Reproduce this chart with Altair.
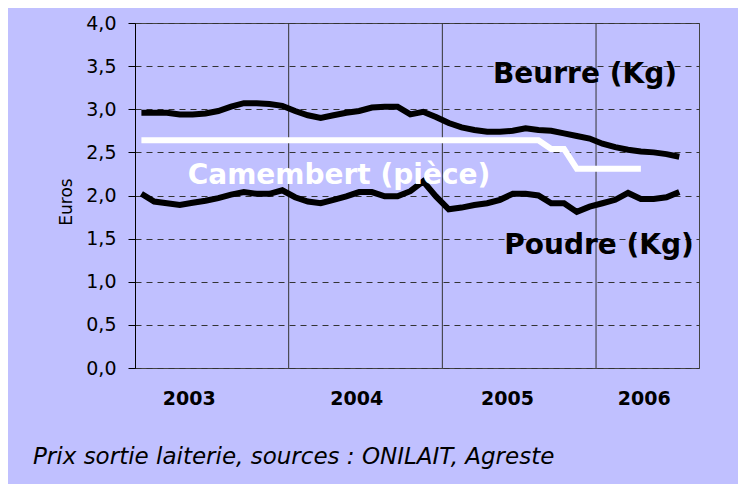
import altair as alt
import pandas as pd

# Monthly prices, Jan 2003 .. Jul 2006 (euros)
start_year = 2003
beurre = [2.96, 2.96, 2.96, 2.94, 2.94, 2.95, 2.98, 3.03, 3.07, 3.07, 3.06, 3.04,
          2.98, 2.93, 2.90, 2.93, 2.96, 2.98, 3.02, 3.03, 3.03, 2.94, 2.97, 2.91,
          2.84, 2.79, 2.76, 2.74, 2.74, 2.75, 2.78, 2.76, 2.75, 2.72, 2.69, 2.66,
          2.60, 2.56, 2.53, 2.51, 2.50, 2.48, 2.45]
poudre = [2.02, 1.93, 1.91, 1.89, 1.915, 1.94, 1.97, 2.01, 2.04, 2.02, 2.02, 2.06,
          1.98, 1.93, 1.91, 1.95, 1.99, 2.04, 2.04, 1.99, 1.99, 2.05, 2.165, 1.99,
          1.84, 1.86, 1.89, 1.91, 1.95, 2.02, 2.02, 2.00, 1.91, 1.91, 1.81, 1.87,
          1.91, 1.95, 2.03, 1.96, 1.96, 1.98, 2.04]
camembert = [2.64] * 32 + [2.54, 2.54] + [2.31] * 6

boundaries = [2004, 2005, 2006]
series_names = ["Beurre (Kg)", "Camembert (pièce)", "Poudre (Kg)"]
y_title = "Euros"
caption = "Prix sortie laiterie, sources : ONILAIT, Agreste"


def frame(values):
    return pd.DataFrame({
        "t": [start_year + (m + 0.5) / 12 for m in range(len(values))],
        "v": values,
    })


FONT = "DejaVu Sans"
xscale = alt.Scale(domain=[2003, 2006.67], nice=False, zero=False)
yscale = alt.Scale(domain=[0, 4], nice=False, zero=True)
xaxis = alt.Axis(values=[2003.35, 2004.44, 2005.42, 2006.31],
                 labelExpr="format(floor(datum.value), 'd')",
                 ticks=False, domain=False, grid=False, title=None,
                 labelFont=FONT, labelFontWeight="bold", labelFontSize=19,
                 labelColor="black", labelPadding=21)
yaxis = alt.Axis(values=[0, 0.5, 1, 1.5, 2, 2.5, 3, 3.5, 4],
                 labelExpr="replace(format(datum.value, '.1f'), '.', ',')",
                 grid=True, gridDash=[6, 5], gridColor="#333333", gridWidth=1,
                 domainColor="black", tickColor="black", tickSize=7,
                 labelFont=FONT, labelFontSize=19, labelColor="black", labelPadding=12,
                 title=None)

X = alt.X("t:Q", scale=xscale, axis=xaxis)
Y = alt.Y("v:Q", scale=yscale, axis=yaxis)

rules = alt.Chart(pd.DataFrame({"t": boundaries})).mark_rule(
    color="#333333", strokeWidth=1).encode(x=X)

line_b = alt.Chart(frame(beurre)).mark_line(color="black", strokeWidth=6).encode(x=X, y=Y)
line_p = alt.Chart(frame(poudre)).mark_line(color="black", strokeWidth=6).encode(x=X, y=Y)
line_c = alt.Chart(frame(camembert)).mark_line(color="white", strokeWidth=6).encode(x=X, y=Y)


def label(text, px, py, color, size=28, bold=True, italic=False, align="center",
          baseline="alphabetic", angle=0):
    kw = dict(font=FONT, fontSize=size, color=color, align=align, baseline=baseline)
    if bold:
        kw["fontWeight"] = "bold"
    if italic:
        kw["fontStyle"] = "italic"
    if angle:
        kw["angle"] = angle
    return alt.Chart(pd.DataFrame({"s": [text]})).mark_text(**kw).encode(
        text="s:N", x=alt.value(px), y=alt.value(py))


lab_b = label(series_names[0], 450, 60, "black")
lab_c = label(series_names[1], 204, 161, "white")
lab_p = label(series_names[2], 464, 231, "black")
lab_y = label(y_title, -68, 179, "black", size=17, bold=False, baseline="middle", angle=270)
lab_cap = label(caption, -102, 441, "black", size=23, bold=False, italic=True, align="left")

chart = alt.layer(rules, line_b, line_p, line_c, lab_b, lab_c, lab_p, lab_y, lab_cap).properties(
    width=564, height=345,
    padding={"left": 127, "top": 15, "right": 39, "bottom": 116},
    autosize=alt.AutoSizeParams(type="none"),
    background="#c0c0ff",
).configure_view(stroke="#444444", strokeWidth=1)

chart.save("out.html", embed_options={"renderer": "svg", "actions": False})
